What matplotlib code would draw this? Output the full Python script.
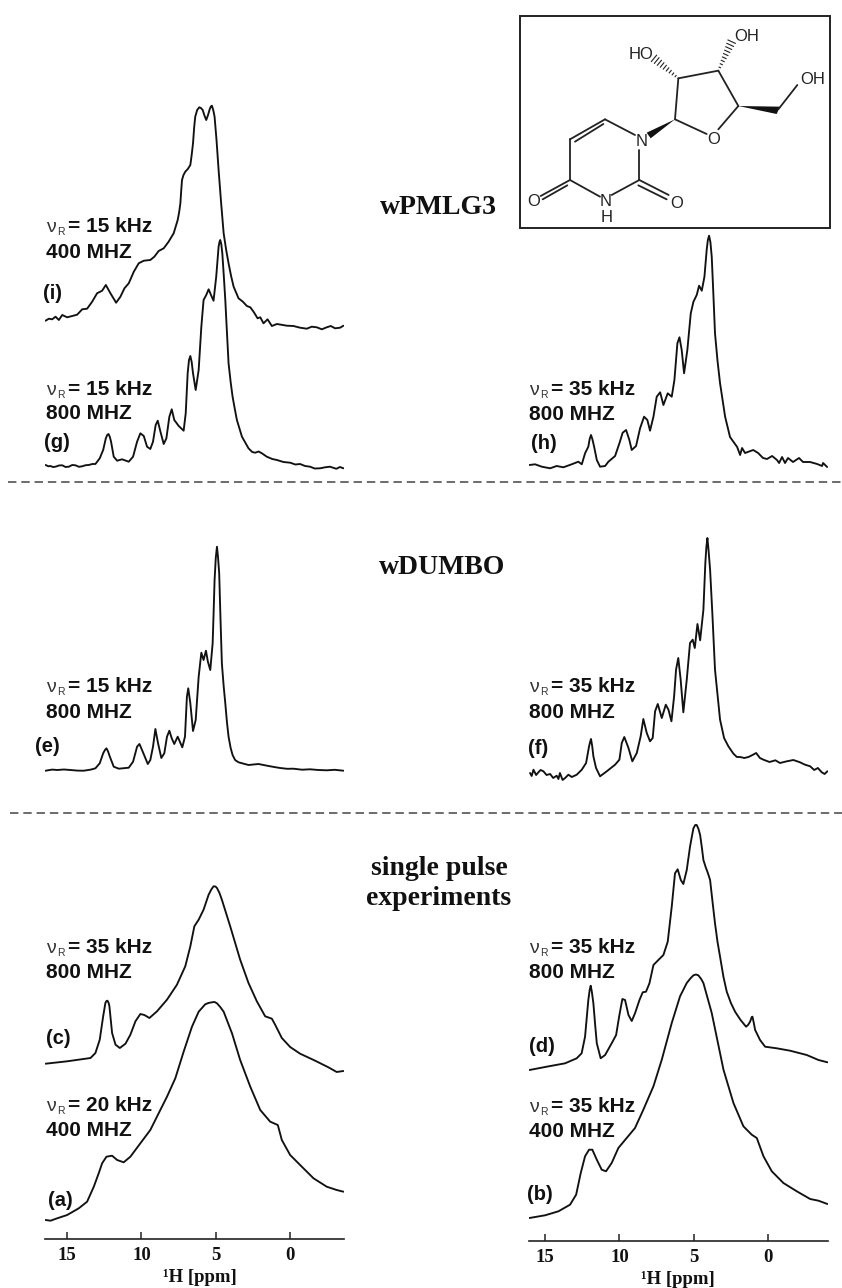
import matplotlib
matplotlib.use("Agg")
import matplotlib.pyplot as plt
from matplotlib.patches import Polygon, Rectangle

W, H = 842, 1288
SANS = "Liberation Sans"
SERIF = "Liberation Serif"

# ---------- spectra: chemical shift (ppm) and intensity (arbitrary units) ----------
ppm_i = [16.44,16.22,16.0,15.77,15.55,15.32,14.99,14.65,14.32,13.98,13.65,13.31,12.98,12.64,12.39,12.08,11.7,11.41,11.14,10.85,10.51,10.18,9.84,9.4,9.13,8.84,8.5,8.17,7.83,7.56,7.46,7.38,7.32,7.27,7.17,7.05,6.88,6.71,6.62,6.53,6.45,6.38,6.25,6.11,6.0,5.88,5.75,5.64,5.52,5.41,5.33,5.26,5.17,5.08,4.95,4.81,4.64,4.47,4.3,4.14,3.97,3.8,3.47,3.18,2.91,2.68,2.46,2.19,2.01,1.79,1.52,1.23,0.89,0.22,-0.22,-0.67,-1.12,-1.45,-1.79,-2.13,-2.46,-2.73,-3.02,-3.36,-3.58]
int_i = [-0.7,1.3,0.7,3.3,0,5,2.7,4,5.3,10.7,11.3,18.3,26.7,29.3,35,26.7,17.3,23.3,31.7,36.7,48.3,56.7,59.3,60,63.3,69,71.7,78.3,86.7,100,108,116.7,130,140,145,148.3,151,155,165,176.7,193,203.3,210,212.7,212,210,204,200,205,210.7,213.5,214.3,210,203.3,180,150,117,86.7,70,56.7,44,33.3,21.7,18.3,14,12.7,8.3,1.7,2.7,-3.3,0.7,-6,-4,-5.7,-6,-7.7,-8.7,-6.7,-7.3,-9.3,-7.3,-6,-8.3,-7.7,-5.7]

ppm_g = [16.44,16.25,16.11,15.95,15.77,15.55,15.32,15.1,14.88,14.65,14.43,14.2,13.98,13.75,13.54,13.3,13.09,12.8,12.57,12.39,12.3,12.21,12.12,12.04,11.86,11.63,11.3,10.85,10.56,10.29,10.07,9.84,9.62,9.4,9.22,9.04,8.9,8.72,8.5,8.32,8.12,7.96,7.79,7.49,7.16,7.02,6.89,6.8,6.71,6.62,6.53,6.35,6.15,5.97,5.82,5.64,5.48,5.32,5.15,4.97,4.81,4.75,4.7,4.63,4.56,4.46,4.36,4.25,4.14,4.0,3.87,3.72,3.58,3.24,2.8,2.55,2.35,2.12,1.9,1.57,1.2,0.89,0.45,0,-0.35,-0.67,-1.0,-1.34,-1.65,-2.01,-2.35,-2.68,-3.1,-3.35,-3.58]
int_g = [1,-0.3,0,-1,-0.7,0.5,0.7,-1,-0.7,1,0.7,-0.8,-0.3,0.8,1,2,2,7.7,16,27.7,31,32,29,24.3,9.3,5.3,6.7,4.3,9.3,24.3,32.7,30,19.3,17,24.3,41,45.3,34.3,22,27.7,49.3,56.7,46,40,35.3,52.7,92.7,106,110,104,92.7,76,96,139.3,166,171,176.7,171,165.3,189.3,219.3,224,226,222,212.7,190,166,134,102.7,84,69.3,57,46,29.3,17.7,14,13.3,14.5,12.7,9.3,7,6,4,3.3,1.5,2,0,-0.7,-2.5,-2.3,-1.3,-0.7,-2.8,-1,-2.3]

ppm_h = [16.05,15.67,15.22,14.66,14.22,13.77,13.21,12.76,12.53,12.31,12.09,12.0,11.91,11.82,11.7,11.52,11.3,10.96,10.74,10.29,10,9.78,9.55,9.33,9.17,8.88,8.61,8.34,8.12,7.94,7.71,7.49,7.26,7.04,6.75,6.48,6.3,6.1,5.96,5.81,5.65,5.43,5.2,5.02,4.8,4.64,4.46,4.28,4.13,4.05,3.97,3.88,3.79,3.68,3.57,3.4,3.23,2.89,2.56,2.08,1.88,1.75,1.55,1.0,0.67,0.34,0.07,-0.27,-0.6,-0.74,-0.94,-1.14,-1.34,-1.68,-2.08,-2.35,-2.82,-3.3,-3.63,-3.7,-3.97]
int_h = [1,1.7,-0.7,-2.3,0,-1.3,1.7,4.3,1.7,12.7,19.3,27,31,27,19.3,6,-0.7,0,4.3,10,22.7,33.3,36,26,16,20,37.7,49.3,46,35.3,49.3,69.3,73.7,61,72.7,69.3,86,122.7,128.7,116,92.7,116,152.7,164.3,171,180.3,175.3,189.3,216,226,230.3,224,209.3,172,132.7,105,82.7,49.3,29,19,11,18,13,16,13,8,7,10,6,3,9,3,8,4,8,4,4,2,0,3,-1]

ppm_e = [16.44,16.0,15.66,15.2,14.77,14.3,13.87,13.4,13.09,12.8,12.57,12.45,12.35,12.24,12.12,11.86,11.52,10.85,10.56,10.29,10.13,9.91,9.57,9.4,9.22,9.06,8.88,8.66,8.46,8.28,8.12,7.96,7.79,7.56,7.25,7.07,6.94,6.85,6.71,6.53,6.35,6.15,5.97,5.82,5.66,5.53,5.37,5.21,5.15,5.08,5.0,4.92,4.85,4.77,4.68,4.59,4.47,4.36,4.25,4.14,4.0,3.87,3.7,3.47,2.8,2.13,1.45,1.0,0.67,0.2,-0.22,-0.8,-1.34,-1.9,-2.46,-3.0,-3.58]
int_e = [-0.7,0.4,0,0.5,0,-0.6,-0.7,0.4,1.7,6.7,16.7,20,21.7,18.5,13.3,3.3,1.3,2.3,8.3,23.3,26,18.3,6,10,23.3,41,26.7,12,16.7,33.3,39.3,31.7,26,33.3,22.7,33.3,73.3,81.7,66.7,39,50,93.3,117.3,110,119.3,108.3,100,126.7,155,190,212,223.3,213,196.7,150,106.7,84,66.7,48,33.3,22,15,10,7.7,5,6,4,2.8,2,1.2,1.3,0.3,0.7,0,-0.3,0.2,-0.7]

ppm_f = [16.01,15.9,15.78,15.6,15.45,15.3,15.11,14.9,14.66,14.45,14.22,14.1,14,13.82,13.65,13.43,13.2,12.87,12.53,12.24,12.04,11.97,11.91,11.83,11.75,11.57,11.3,10.85,10.29,10,9.84,9.67,9.39,9.13,8.83,8.57,8.39,8.16,7.94,7.76,7.6,7.42,7.15,6.88,6.7,6.5,6.32,6.19,6.04,5.88,5.7,5.47,5.25,5.07,4.93,4.75,4.57,4.35,4.22,4.15,4.08,4.0,3.9,3.75,3.57,3.23,2.96,2.67,2.33,2.1,1.88,1.6,1.32,1.05,0.8,0.55,0.31,-0.1,-0.49,-0.8,-1.26,-1.7,-2.15,-2.45,-2.83,-3.1,-3.35,-3.61,-3.8,-3.99]
int_f = [0,-3,3.3,-2,0.7,3,1.7,-2,-1,-5,-2.7,-6,0,-7,-5,-1.7,-4,-1.7,3.3,10,26.7,31,34,27,16.7,5,-3.3,1.7,8.3,13.3,30,36,25,11.7,20,36.7,54,40,31.7,35,61.7,69,55,68.3,63.3,51.7,76.7,103.3,115,93.3,60.7,93.3,130,133.3,125,149,132.7,163.3,210,226,235,222,203.3,160,103.3,53.3,35,26.7,19.3,16,16,15,16,18,20,15,13.3,11,12.7,10,11.7,13,10.7,8.5,6.7,3,5,0.7,-1,1.7]

ppm_c = [16.44,14.99,13.42,13.09,12.8,12.57,12.42,12.35,12.28,12.2,12.15,11.97,11.74,11.45,11.07,10.74,10.4,10.07,9.8,9.46,8.95,8.28,7.61,7.05,6.71,6.44,6.15,5.82,5.48,5.3,5.15,5.02,4.92,4.75,4.59,4.03,3.36,2.8,2.24,1.68,1.23,1.01,0.56,0,-0.67,-1.68,-2.57,-3.13,-3.58]
int_c = [-0.7,1.7,5,10,23.3,46.7,60,62,62.3,60,56.7,30,18.3,15,19.3,28.3,41.7,49,48,45,51.7,63.3,78.3,96.7,116.7,136.7,143.3,153.3,168.3,173.5,176.7,176.5,175,170,163.3,136.7,103.3,80,61.7,46.7,44.3,38.3,25,16,9.3,2.3,-4.3,-9,-8]

ppm_a = [16.44,16.11,15.66,14.99,14.21,13.65,13.2,12.87,12.64,12.35,11.97,11.63,11.19,10.74,10.07,9.4,8.84,8.28,7.72,7.16,6.6,6.15,5.71,5.5,5.26,5.08,4.92,4.7,4.47,3.91,3.36,2.68,2.01,1.34,0.83,0.56,0,-0.67,-1.57,-2.46,-3.13,-3.58]
int_a = [0,-0.7,1.7,5,11.7,18.3,33.3,46.7,56.7,63.3,64.3,60,57.7,63.3,76.7,90,106.7,123.3,141.7,168.3,193.3,208.3,215.7,217,217.7,218,216.7,213,208.3,186.7,160,133.3,110,98.3,95,80,65,55,41.7,33.3,30,28.3]

ppm_d = [16.05,14.89,13.65,12.87,12.54,12.31,12.09,12.0,11.93,11.85,11.75,11.63,11.52,11.26,10.96,10.52,10.22,10,9.8,9.62,9.39,9.17,8.95,8.65,8.43,8.21,7.98,7.71,7.38,7.04,6.75,6.48,6.26,6.08,5.87,5.7,5.47,5.25,5.12,5.02,4.9,4.8,4.68,4.57,4.45,4.35,4.2,4.05,3.9,3.75,3.57,3.4,3.23,3,2.78,2.5,2.22,1.85,1.48,1.35,1.21,1.1,1.05,0.96,0.87,0.54,0.2,-0.58,-1.48,-2.6,-3.39,-3.99]
int_d = [0,3.3,6.7,11.7,16.7,33.3,70,80,84.3,78,66.7,45,26.7,11.7,15,26.7,35,55,71,70,55,49,56.7,70,77.7,78.3,86.7,105,110,115,128.3,163.3,196.7,200.7,190,186,200,223.3,234,241.7,245,245,241,235,222,210,203,197,190,170,146.7,128,113.3,93,78.3,67,58.3,50,43.3,45,48.3,53,53.3,47,40,30,23.3,21.7,19.3,15,10,7.7]

ppm_b = [16.05,15,14.1,13.32,12.91,12.6,12.31,12.04,11.82,11.52,11.19,10.9,10.52,10.07,9.51,8.95,8.39,7.71,7.15,6.48,5.92,5.47,5.2,5.02,4.85,4.69,4.5,4.35,3.79,3,2.33,1.66,1.1,0.76,0.31,-0.25,-1.03,-1.93,-2.83,-3.39,-3.99]
int_b = [0,2.7,6.7,13.3,23.3,45,61.7,68.3,68.3,58.3,48.3,46.7,55,70,80,90,108.3,131.7,158.3,195,221.7,235,240,242.7,243.5,242.7,239,235,205,148.3,115,91.7,83.3,80,61.7,46.7,35,26.7,19,17.3,14]

# vertical stacking offset of each trace
offset_left = {"i": 968, "g": 822, "e": 518, "c": 225, "a": 68}
offset_right = {"h": 822, "f": 515, "d": 218, "b": 70}

tick_values = [15, 10, 5, 0]
axis_label = "¹H [ppm]"
section_titles = [("wPMLG3", 438, 214), ("wDUMBO", 442, 574), ("single pulse", 439, 875), ("experiments", 439, 905)]
# rate, field, tag, x, baseline 1, baseline 2, tag x, tag y
annotations = [
    ("15 kHz", "400 MHZ", "(i)", 46, 232, 258, 43, 293),
    ("15 kHz", "800 MHZ", "(g)", 46, 395, 419, 44, 442),
    ("35 kHz", "800 MHZ", "(h)", 529, 395, 420, 531, 443),
    ("15 kHz", "800 MHZ", "(e)", 46, 692, 718, 35, 746),
    ("35 kHz", "800 MHZ", "(f)", 529, 692, 718, 528, 748),
    ("35 kHz", "800 MHZ", "(c)", 46, 953, 978, 46, 1039),
    ("20 kHz", "400 MHZ", "(a)", 46, 1111, 1136, 48, 1200),
    ("35 kHz", "800 MHZ", "(d)", 529, 953, 978, 529, 1046),
    ("35 kHz", "400 MHZ", "(b)", 529, 1112, 1137, 527, 1195),
]

# ---------- figure ----------
fig = plt.figure(figsize=(W / 100, H / 100), dpi=100, facecolor="white")

def column_axes(x0, x1, xlim, axis_px):
    ax = fig.add_axes([x0 / W, 0, (x1 - x0) / W, 1], facecolor="none")
    ax.set_xlim(*xlim)
    ax.set_ylim(0, H)
    for s in ("top", "left", "right"):
        ax.spines[s].set_visible(False)
    ax.spines["bottom"].set_position(("data", H - axis_px))
    ax.spines["bottom"].set_linewidth(1.2)
    ax.spines["bottom"].set_color("#222222")
    ax.set_yticks([])
    ax.set_xticks(tick_values)
    ax.set_xticklabels([str(t) for t in tick_values], family=SERIF, weight="bold", fontsize=13.5, color="#111111")
    ax.tick_params(axis="x", direction="in", length=5, width=1.1, color="#222222", pad=6)
    return ax

ax_l = column_axes(45, 344, (16.48, -3.62), 1239)
ax_r = column_axes(529, 828, (16.08, -4.03), 1241)

line_kw = dict(color="#111111", lw=1.35, solid_joinstyle="round", solid_capstyle="round")
for ppm, vals, key in [(ppm_i, int_i, "i"), (ppm_g, int_g, "g"), (ppm_e, int_e, "e"), (ppm_c, int_c, "c"), (ppm_a, int_a, "a")]:
    ax_l.plot(ppm, [v + offset_left[key] for v in vals], **line_kw)
for ppm, vals, key in [(ppm_h, int_h, "h"), (ppm_f, int_f, "f"), (ppm_d, int_d, "d"), (ppm_b, int_b, "b")]:
    ax_r.plot(ppm, [v + offset_right[key] for v in vals], **line_kw)

# overlay in figure pixels for text and separators
ov = fig.add_axes([0, 0, 1, 1], facecolor="none")
ov.set_xlim(0, W)
ov.set_ylim(H, 0)
ov.axis("off")

ov.text(200, 1278, axis_label, family=SERIF, weight="bold", fontsize=13.5, ha="center", va="center", color="#111111")
ov.text(678, 1279, axis_label, family=SERIF, weight="bold", fontsize=13.5, ha="center", va="center", color="#111111")

for y, x0 in [(482, 8), (813, 10)]:
    ov.plot([x0, W], [y, y], color="#444444", lw=1.1, dashes=(5.5, 3.2))

for title, x, y in section_titles:
    ov.text(x, y, title, family=SERIF, weight="bold", fontsize=20, ha="center", va="baseline", color="#111111")

for rate, field, tag, x, y1, y2, tx, ty in annotations:
    ov.text(x, y1, "ν", family=SANS, fontsize=14, color="#333333", va="baseline")
    ov.text(x + 11, y1 + 3, "R", family=SANS, fontsize=7.5, color="#333333", va="baseline")
    ov.text(x + 22, y1, "= " + rate, family=SANS, weight="bold", fontsize=15, color="#111111", va="baseline")
    ov.text(x, y2, field, family=SANS, weight="bold", fontsize=15, color="#111111", va="baseline")
    ov.text(tx, ty, tag, family=SANS, weight="bold", fontsize=14.5, color="#111111", va="center")

# ---------- structure inset ----------
mol = fig.add_axes([510 / W, 1 - 240 / H, 332 / W, 240 / H], facecolor="none")
mol.set_xlim(0, 996)
mol.set_ylim(720, 0)
mol.axis("off")
mol.add_patch(Rectangle((30, 48), 930, 637, fill=False, ec="#222222", lw=1.4))

bonds = [
    ((375, 405), (285, 358)), ((285, 358), (180, 418)), ((280, 372), (195, 425)),
    ((180, 418), (180, 540)), ((180, 540), (270, 590)), ((305, 585), (388, 540)),
    ((388, 540), (388, 450)), ((180, 540), (92, 588)), ((172, 556), (98, 598)),
    ((388, 540), (476, 585)), ((385, 556), (470, 598)),
    ((495, 358), (590, 402)), ((625, 388), (685, 318)), ((685, 318), (625, 212)),
    ((625, 212), (505, 235)), ((505, 235), (495, 358)), ((805, 328), (862, 255)),
]
for a, b in bonds:
    mol.plot([a[0], b[0]], [a[1], b[1]], color="#222222", lw=1.3, solid_capstyle="round")
mol.add_patch(Polygon([(495, 358), (410, 398), (422, 415)], fc="#111111", ec="none"))
mol.add_patch(Polygon([(685, 318), (810, 320), (800, 342)], fc="#111111", ec="none"))

hash_wedges = [((505, 235), (432, 175)), ((625, 212), (665, 125))]
for (x0, y0), (x1, y1) in hash_wedges:
    dx, dy = x1 - x0, y1 - y0
    L = (dx * dx + dy * dy) ** 0.5
    nx, ny = -dy / L, dx / L
    for k in range(1, 10):
        t = k / 9
        half = 1 + 11 * t
        cx, cy = x0 + dx * t, y0 + dy * t
        mol.plot([cx - nx * half, cx + nx * half], [cy - ny * half, cy + ny * half], color="#222222", lw=0.8)

atoms = [("N", 395, 425), ("N", 287, 603), ("H", 289, 651), ("O", 72, 605), ("O", 501, 610),
         ("O", 612, 420), ("HO", 393, 163), ("OH", 710, 110), ("OH", 908, 237)]
for s, x, y in atoms:
    mol.text(x, y, s, family=SANS, fontsize=12, ha="center", va="center", color="#222222")

fig.savefig("out.png", dpi=100, facecolor="white")
